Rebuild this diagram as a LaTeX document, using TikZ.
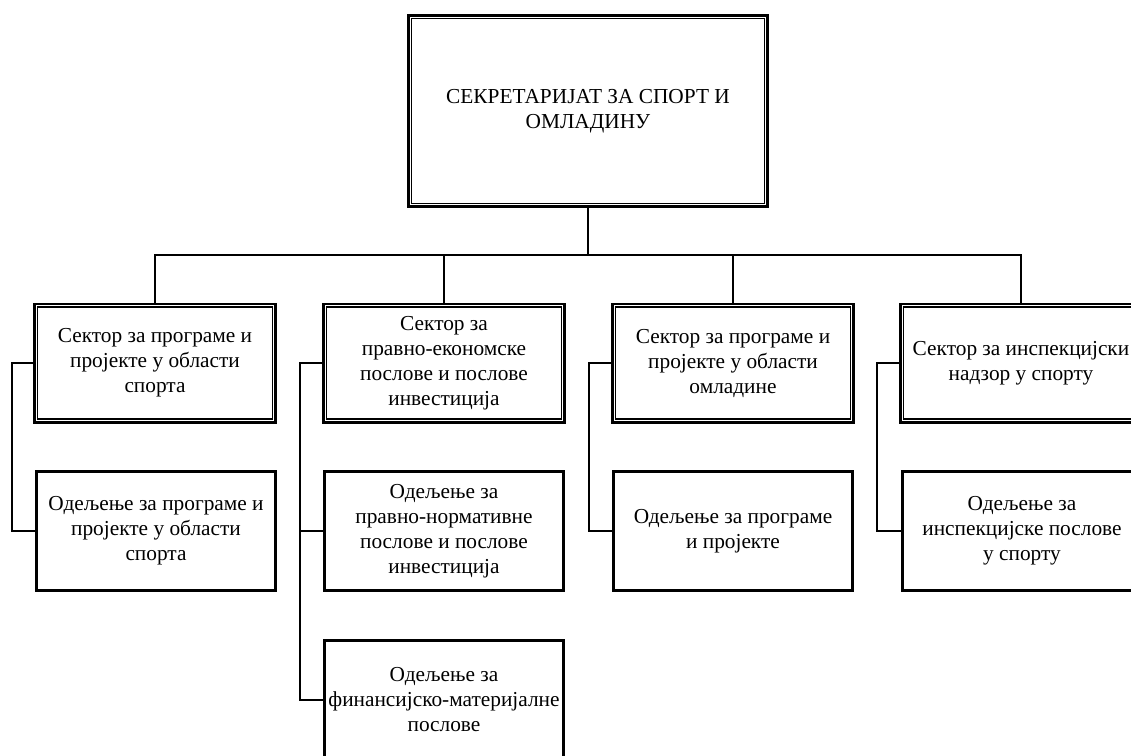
\documentclass[tikz,border=0pt]{standalone}
\usepackage{fontspec}
\setmainfont{Liberation Serif}
\begin{document}
\begin{tikzpicture}[x=0.75pt,y=-0.75pt,
  every node/.style={font=\fontsize{16}{18.75}\selectfont, align=center, inner sep=0pt},
  outerbox/.style={draw, line width=2pt},
  topbox/.style={outerbox, minimum width=269.5pt, minimum height=143.5pt},
  sectorbox/.style={outerbox, minimum width=181pt, minimum height=88.75pt},
  deptbox/.style={draw, line width=1.9pt, minimum width=179.6pt, minimum height=89.6pt},
  conn/.style={line width=1.9pt},
  inner/.style={line width=1.1pt}]
\useasboundingbox (0,0) rectangle (1131,756);
\clip (0,0) rectangle (1131,756);

\node[topbox] (top) at (588,111) {СЕКРЕТАРИЈАТ ЗА СПОРТ И\\ОМЛАДИНУ};

\node[sectorbox] (s1) at (155,363) {Сектор за програме и\\пројекте у области\\спорта};
\node[sectorbox] (s2) at (444,363) {Сектор за\\правно-економске\\послове и послове\\инвестиција};
\node[sectorbox] (s3) at (733,363) {Сектор за програме и\\пројекте у области\\омладине};
\node[sectorbox] (s4) at (1021,363) {Сектор за инспекцијски\\надзор у спорту};

\foreach \n in {top,s1,s2,s3,s4}
  \draw[inner] ([xshift=3.4pt,yshift=-3.4pt]\n.north west) rectangle ([xshift=-3.4pt,yshift=3.4pt]\n.south east);

\node[deptbox] (d1) at (156,531) {Одељење за програме и\\пројекте у области\\спорта};
\node[deptbox] (d2a) at (444,531) {Одељење за\\правно-нормативне\\послове и послове\\инвестиција};
\node[deptbox] (d2b) at (444,700) {Одељење за\\финансијско-материјалне\\послове};
\node[deptbox] (d3) at (733,531) {Одељење за програме\\и пројекте};
\node[deptbox] (d4) at (1022,531) {Одељење за\\инспекцијске послове\\у спорту};

\coordinate (bar) at (588,255);
\draw[conn] (top.south) -- (bar);
\draw[conn] (s1.north) |- (bar) -| (s4.north);
\draw[conn] (s2.north) -- (s2.north |- bar);
\draw[conn] (s3.north) -- (s3.north |- bar);

\coordinate (k1) at (12,363);
\coordinate (k2) at (300,363);
\coordinate (k3) at (589,363);
\coordinate (k4) at (877,363);
\draw[conn] (s1.west) -- (k1) |- (d1.west);
\draw[conn] (s2.west) -- (k2) |- (d2a.west);
\draw[conn] (k2) |- (d2b.west);
\draw[conn] (s3.west) -- (k3) |- (d3.west);
\draw[conn] (s4.west) -- (k4) |- (d4.west);
\end{tikzpicture}
\end{document}
